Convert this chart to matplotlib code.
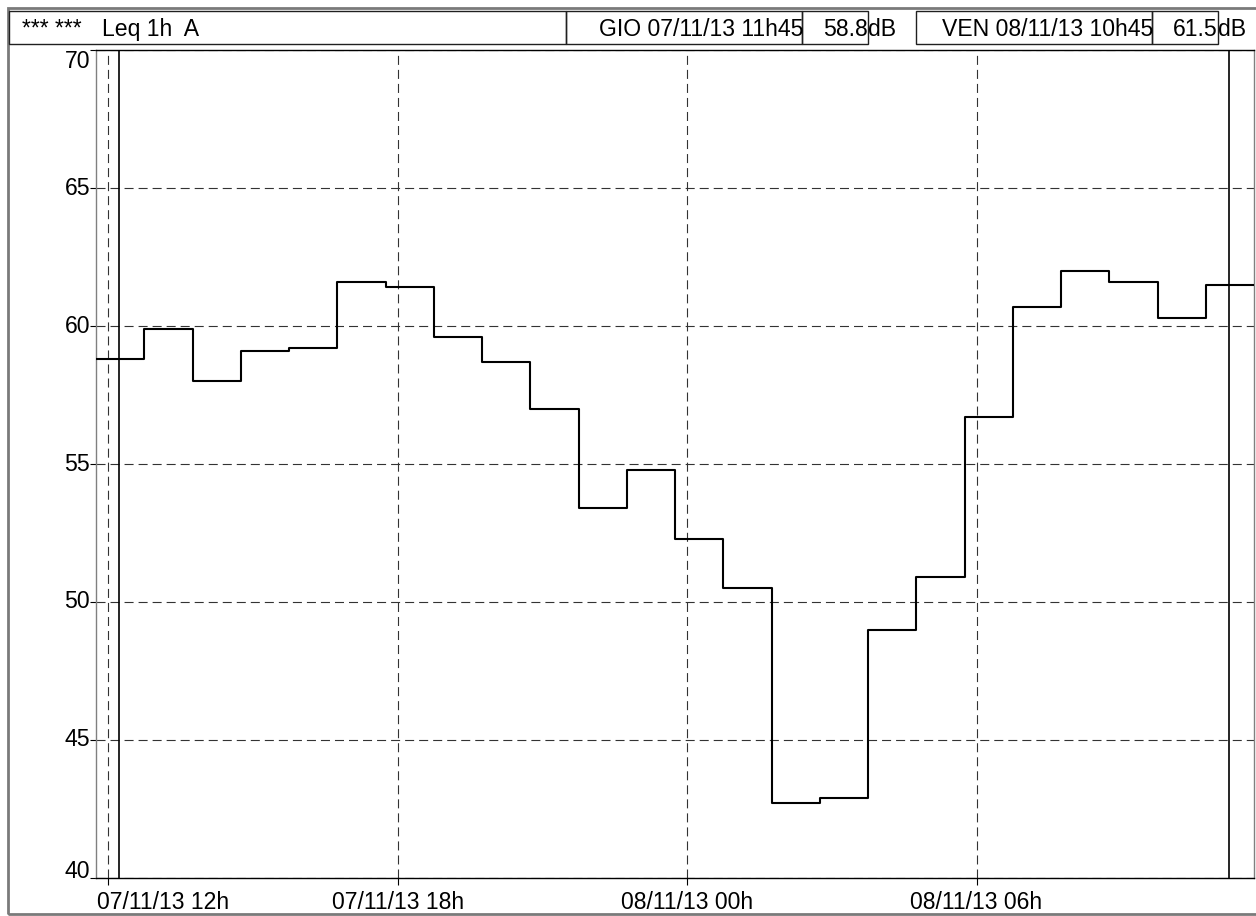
import matplotlib
matplotlib.use("Agg")
import matplotlib.pyplot as plt
import matplotlib.dates as mdates
from matplotlib.patches import Rectangle
from matplotlib.transforms import blended_transform_factory
import pandas as pd

plt.rcParams["font.family"] = ["Liberation Sans", "DejaVu Sans"]
plt.rcParams["lines.scale_dashes"] = False

# Hourly Leq (dB A), each period starting at hh:45
leq = [58.8, 59.9, 58.0, 59.1, 59.2, 61.6, 61.4, 59.6, 58.7, 57.0, 53.4, 54.8,
       52.3, 50.5, 42.7, 42.9, 49.0, 50.9, 56.7, 60.7, 62.0, 61.6, 60.3, 61.5]
first_period = "2013-11-07 11:45"

x_ticks = ["2013-11-07 12:00", "2013-11-07 18:00", "2013-11-08 00:00", "2013-11-08 06:00"]
x_tick_labels = ["07/11/13 12h", "07/11/13 18h", "08/11/13 00h", "08/11/13 06h"]
y_ticks = [40, 45, 50, 55, 60, 65, 70]
cursors = ["2013-11-07 12:13", "2013-11-08 11:14"]

starts = pd.date_range(first_period, periods=len(leq), freq="h")
edges = list(starts) + [starts[-1] + pd.Timedelta(hours=1)]
edges = mdates.date2num([e.to_pydatetime() for e in edges])
tick_pos = mdates.date2num(pd.to_datetime(x_ticks).to_pydatetime())
cursor_pos = mdates.date2num(pd.to_datetime(cursors).to_pydatetime())

W, H = 1256, 916
def fx(x):
    return x / W
def fy(y):
    return 1 - y / H

fig = plt.figure(figsize=(W / 100, H / 100), dpi=100)
ax = fig.add_axes([fx(96), fy(878), (1254 - 96) / W, (878 - 50) / H])

ax.step(edges, leq + [leq[-1]], where="post", color="black", lw=1.5, zorder=3)
for c in cursor_pos:
    ax.axvline(c, color="black", lw=1.2, zorder=4)

ax.set_xlim(edges[0], edges[-1])
ax.set_ylim(40, 70)
ax.set_xticks(tick_pos)
ax.set_yticks(y_ticks)
ax.set_axisbelow(True)
ax.grid(True, linestyle=(0, (6.5, 3.6)), color="#333333", lw=0.8)
ax.tick_params(axis="x", direction="out", length=5, width=0.8, labelbottom=False)
ax.tick_params(axis="y", direction="out", length=4.5, width=0.8, labelleft=False)
ax.spines["top"].set_color("black")
ax.spines["bottom"].set_color("black")
ax.spines["left"].set_color("#808080")
ax.spines["right"].set_color("#808080")
for s in ax.spines.values():
    s.set_linewidth(1.0)

fs = 16.6
# x tick labels (first one kept inside the frame)
tr_x = blended_transform_factory(ax.transData, fig.transFigure)
tr_ax = blended_transform_factory(ax.transAxes, fig.transFigure)
for i, (p, lab) in enumerate(zip(tick_pos, x_tick_labels)):
    if i == 0:
        fig.text(0.001, fy(909), lab, transform=tr_ax, ha="left", va="baseline", fontsize=fs)
    else:
        fig.text(p, fy(909), lab, transform=tr_x, ha="center", va="baseline", fontsize=fs)

# y tick labels
tr_y = blended_transform_factory(fig.transFigure, ax.transData)
for v in y_ticks:
    va = "center"
    if v == y_ticks[-1]:
        va = "top"
    elif v == y_ticks[0]:
        va = "baseline"
    fig.text(fx(90), v, str(v), transform=tr_y, ha="right", va=va, fontsize=fs)

# outer frame and header boxes
fig.add_artist(Rectangle((fx(8), fy(914)), (1258 - 8) / W, (914 - 8) / H,
                         transform=fig.transFigure, fill=False, edgecolor="#7a7a7a", lw=2))
boxes = [(9, 566), (566, 802), (802, 868), (916, 1152), (1152, 1218)]
for x0, x1 in boxes:
    fig.add_artist(Rectangle((fx(x0), fy(44)), (x1 - x0) / W, (44 - 11) / H,
                             transform=fig.transFigure, fill=False, edgecolor="#202020", lw=1))

base = fy(36)
fig.text(fx(22), base, "*** ***", ha="left", va="baseline", fontsize=fs)
fig.text(fx(102), base, "Leq 1h  A", ha="left", va="baseline", fontsize=fs)
fig.text(fx(803), base, "GIO " + starts[0].strftime("%d/%m/%y %Hh%M"), ha="right", va="baseline", fontsize=fs)
fig.text(fx(868), base, f"{leq[0]:.1f}", ha="right", va="baseline", fontsize=fs)
fig.text(fx(868), base, "dB", ha="left", va="baseline", fontsize=fs)
fig.text(fx(1153), base, "VEN " + starts[-1].strftime("%d/%m/%y %Hh%M"), ha="right", va="baseline", fontsize=fs)
fig.text(fx(1218), base, f"{leq[-1]:.1f}", ha="right", va="baseline", fontsize=fs)
fig.text(fx(1218), base, "dB", ha="left", va="baseline", fontsize=fs)

fig.savefig("out.png", dpi=100)
